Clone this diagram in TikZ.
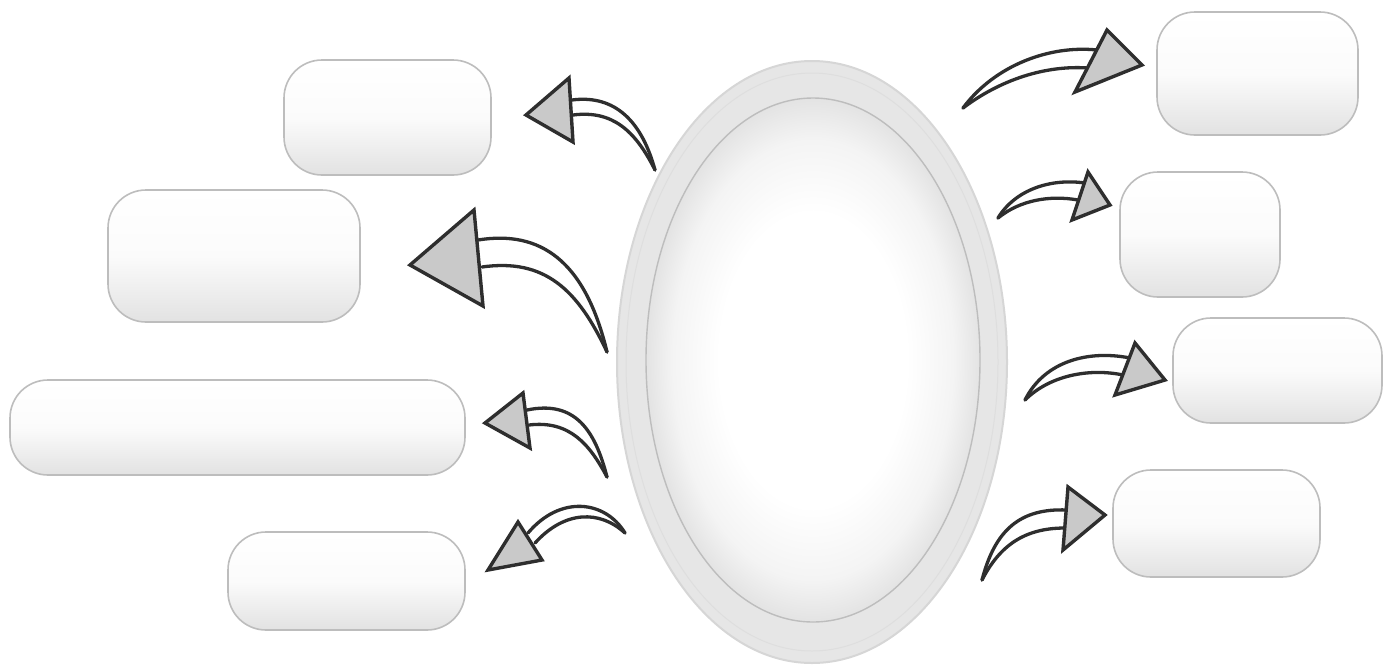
\documentclass[tikz,border=0pt]{standalone}
\usetikzlibrary{shapes.geometric}
\definecolor{boxline}{HTML}{BDBDBD}
\definecolor{boxbot}{HTML}{E2E2E2}
\definecolor{arrline}{HTML}{2E2E2E}
\definecolor{headfill}{HTML}{C9C9C9}
\definecolor{ringfill}{HTML}{E6E6E6}
\definecolor{ringline}{HTML}{D6D6D6}
\definecolor{innerline}{HTML}{BDBDBD}
\definecolor{eggedge}{HTML}{E3E3E3}
\pgfdeclareradialshading{eggshade}{\pgfpoint{0bp}{0bp}}{color(0bp)=(white); color(14bp)=(white); color(21bp)=(white!60!eggedge); color(25bp)=(eggedge); color(50bp)=(eggedge)}
\tikzset{
  pill/.style={draw=boxline, line width=1.6pt, rounded corners=38pt, top color=white, bottom color=boxbot, middle color=white!97!gray},
  shaft/.style={draw=arrline, line width=3.3pt, line cap=round},
  head/.style={draw=arrline, fill=headfill, line width=3.4pt, line join=miter},
}
\begin{document}
\begin{tikzpicture}[x=1pt,y=-1pt]
\useasboundingbox (0,0) rectangle (1395,665);
\fill[white] (0,0) rectangle (1395,665);

% central ellipse
\node (outer) [ellipse, minimum width=390pt, minimum height=602pt, fill=ringfill, draw=ringline, line width=2pt] at (812,362) {};
\node (mid) [ellipse, minimum width=372pt, minimum height=578pt, draw=ringline!80!white, line width=1pt] at (812,362) {};
\node (inner) [ellipse, minimum width=334pt, minimum height=524pt, shading=eggshade, draw=innerline, line width=1.4pt] at (813,360) {};

% boxes
\path[pill] (284,60) rectangle (491,175);
\path[pill] (108,190) rectangle (360,322);
\path[pill] (10,380) rectangle (465,475);
\path[pill] (228,532) rectangle (465,630);
\path[pill] (1157,12) rectangle (1358,135);
\path[pill] (1120,172) rectangle (1280,297);
\path[pill] (1173,318) rectangle (1382,423);
\path[pill] (1113,470) rectangle (1320,577);

% arrow 1
\coordinate (t1) at (655,170);
\draw[shaft] (t1) .. controls (640,115) and (610,95) .. (572,100);
\draw[shaft] (t1) .. controls (635,130) and (612,110) .. (573,115);
\draw[head] (526,115) -- (569,78) -- (573,142) -- cycle;

% arrow 2
\coordinate (t2) at (607,352);
\draw[shaft] (t2) .. controls (585,260) and (540,230) .. (478,240);
\draw[shaft] (t2) .. controls (578,290) and (545,258) .. (482,267);
\draw[head] (410,265) -- (474,210) -- (483,306) -- cycle;

% arrow 3
\coordinate (t3) at (607,477);
\draw[shaft] (t3) .. controls (595,430) and (575,400) .. (527,410);
\draw[shaft] (t3) .. controls (590,445) and (570,420) .. (529,425);
\draw[head] (485,423) -- (523,393) -- (530,448) -- cycle;

% arrow 4
\coordinate (t4) at (625,533);
\draw[shaft] (t4) .. controls (605,500) and (560,495) .. (528,533);
\draw[shaft] (t4) .. controls (600,510) and (565,510) .. (535,543);
\draw[head] (488,570) -- (518,522) -- (542,560) -- cycle;

% arrow 5
\coordinate (t5) at (963,108);
\draw[shaft] (t5) .. controls (995,65) and (1050,45) .. (1097,50);
\draw[shaft] (t5) .. controls (1000,80) and (1045,65) .. (1088,68);
\draw[head] (1142,65) -- (1107,30) -- (1075,92) -- cycle;

% arrow 6
\coordinate (t6) at (998,218);
\draw[shaft] (t6) .. controls (1015,190) and (1050,178) .. (1085,183);
\draw[shaft] (t6) .. controls (1020,200) and (1050,195) .. (1078,200);
\draw[head] (1110,205) -- (1088,172) -- (1072,220) -- cycle;

% arrow 7
\coordinate (t7) at (1025,400);
\draw[shaft] (t7) .. controls (1045,360) and (1090,350) .. (1130,358);
\draw[shaft] (t7) .. controls (1050,375) and (1090,368) .. (1123,375);
\draw[head] (1165,380) -- (1135,343) -- (1115,395) -- cycle;

% arrow 8
\coordinate (t8) at (982,580);
\draw[shaft] (t8) .. controls (995,530) and (1020,508) .. (1067,510);
\draw[shaft] (t8) .. controls (1000,545) and (1025,528) .. (1065,528);
\draw[head] (1105,515) -- (1068,487) -- (1063,550) -- cycle;
\end{tikzpicture}
\end{document}
